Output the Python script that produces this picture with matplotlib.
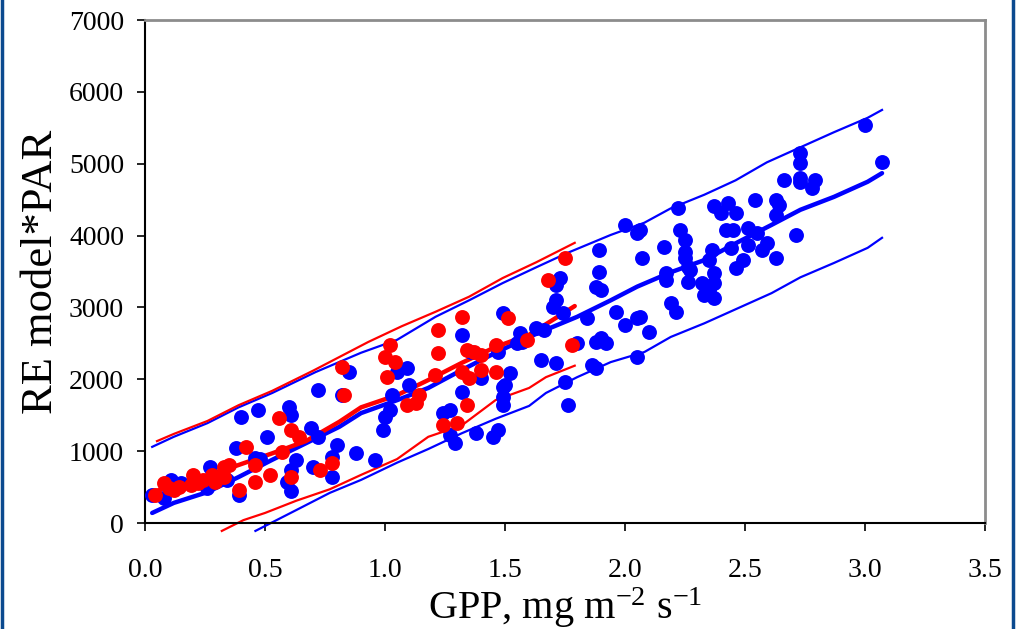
import numpy as np
import matplotlib
matplotlib.use('Agg')
import matplotlib.pyplot as plt
from matplotlib.lines import Line2D

plt.rcParams['font.family'] = ['Liberation Serif', 'DejaVu Serif']
plt.rcParams['mathtext.fontset'] = 'custom'
plt.rcParams['mathtext.rm'] = 'Liberation Serif'
plt.rcParams['mathtext.it'] = 'Liberation Serif:italic'

# blue data set (GPP, RE model*PAR)
blue_x = [0.03, 0.08, 0.11, 0.15, 0.27, 0.26, 0.34, 0.38, 0.40, 0.47, 0.39, 0.51, 0.46, 0.48,
          0.60, 0.61, 0.72, 0.69, 0.72, 0.63, 0.61, 0.59, 0.61, 0.70, 0.78, 0.78, 0.80,
          1.49, 1.32, 0.85, 0.82, 1.09, 1.05, 1.10, 1.03, 1.02, 1.00, 0.99, 0.88, 0.96,
          1.32, 1.24, 1.27, 1.27, 1.29, 1.38, 1.45, 1.47, 1.52, 1.49, 1.49, 1.49, 1.40,
          1.47, 1.56, 1.57, 1.36, 2.00, 2.05, 1.89, 2.07, 1.89, 1.88, 1.90, 1.73, 1.71,
          1.71, 1.70, 1.74, 1.84, 1.96, 2.05, 2.00, 2.10, 1.63, 1.66, 1.55, 1.80, 1.88,
          1.90, 1.92, 1.65, 1.71, 1.86, 1.88, 2.05, 1.75, 1.50, 1.76, 2.22, 2.37, 2.43,
          2.46, 2.40, 2.54, 2.63, 2.64, 2.63, 2.66, 2.23, 2.25, 2.06, 2.16, 2.42, 2.45,
          2.51, 2.55, 2.59, 2.57, 2.63, 2.51, 2.44, 2.36, 2.35, 2.25, 2.25, 2.26, 2.27,
          2.26, 2.17, 2.17, 2.49, 2.46, 2.37, 2.32, 2.37, 2.33, 2.37, 2.35, 2.19, 2.21,
          2.06, 3.00, 3.07, 2.73, 2.73, 2.73, 2.73, 2.79, 2.78, 2.71]
blue_y = [390, 350, 600, 560, 780, 490, 600, 1040, 1480, 1570, 390, 1200, 900, 890,
          1610, 1500, 1850, 1320, 1200, 880, 740, 570, 450, 780, 640, 920, 1090,
          2920, 2620, 2100, 1780, 2160, 2100, 1920, 1780, 1570, 1480, 1290, 970, 880,
          1820, 1530, 1570, 1220, 1110, 1250, 1200, 1290, 2090, 1890, 1750, 1640, 2020,
          2380, 2640, 2520, 2380, 4150, 4040, 3800, 3690, 3490, 3290, 3240, 3410, 3310,
          3100, 3010, 2920, 2850, 2940, 2850, 2760, 2660, 2710, 2690, 2510, 2510, 2520,
          2580, 2510, 2270, 2230, 2200, 2160, 2310, 1960, 1920, 1640, 4380, 4410, 4450,
          4320, 4320, 4500, 4500, 4430, 4290, 4780, 4080, 3940, 4080, 3840, 4080, 4080,
          4110, 4040, 3900, 3800, 3690, 3870, 3830, 3800, 3660, 3770, 3690, 3560, 3520,
          3350, 3480, 3380, 3660, 3550, 3480, 3340, 3340, 3170, 3130, 3240, 3060, 2940,
          2870, 5540, 5020, 5150, 5010, 4800, 4750, 4770, 4660, 4010]

# red data set
red_x = [0.04, 0.08, 0.10, 0.12, 0.14, 0.20, 0.19, 0.22, 0.24, 0.28, 0.29, 0.33, 0.35,
         0.33, 0.39, 0.46, 0.46, 0.52, 0.42, 0.56, 0.61, 0.64, 0.57, 0.61, 0.73, 0.78,
         0.83, 0.82, 1.00, 1.04, 1.01, 1.02, 1.09, 1.13, 1.14, 1.22, 1.22, 1.21, 1.32,
         1.34, 1.37, 1.40, 1.32, 1.35, 1.40, 1.46, 1.46, 1.34, 1.30, 1.24, 1.51, 1.75,
         1.68, 1.59, 1.78]
red_y = [390, 560, 490, 460, 500, 670, 530, 560, 600, 670, 570, 780, 810,
         640, 460, 570, 810, 670, 1060, 1460, 1290, 1200, 990, 640, 740, 840,
         1780, 2170, 2310, 2240, 2030, 2480, 1640, 1670, 1780, 2370, 2690, 2060, 2870,
         2410, 2380, 2340, 2100, 2020, 2130, 2100, 2480, 1640, 1390, 1360, 2850, 3690,
         3380, 2550, 2480]

# fitted lines and prediction bands
blue_fit_x = [0.03, 0.12, 0.26, 0.39, 0.53, 0.67, 0.81, 0.90, 1.05, 1.18, 1.32, 1.46, 1.60,
              1.67, 1.80, 1.94, 2.05, 2.19, 2.33, 2.47, 2.61, 2.73, 2.87, 3.01, 3.07]
blue_fit_y = [140, 280, 430, 640, 880, 1110, 1340, 1530, 1710, 1880, 2130, 2370, 2590,
              2690, 2870, 3100, 3290, 3490, 3660, 3910, 4150, 4360, 4540, 4750, 4870]
blue_up_x = [0.03, 0.12, 0.26, 0.39, 0.53, 0.71, 0.90, 1.05, 1.21, 1.35, 1.49, 1.63, 1.76,
             1.94, 2.08, 2.19, 2.33, 2.46, 2.59, 2.73, 2.87, 3.01, 3.07]
blue_up_y = [1060, 1200, 1390, 1610, 1810, 2100, 2370, 2550, 2870, 3100, 3340, 3560, 3760,
             4010, 4180, 4380, 4570, 4770, 5020, 5230, 5440, 5640, 5750]
blue_lo_x = [0.46, 0.63, 0.77, 0.90, 1.05, 1.18, 1.32, 1.46, 1.60, 1.67, 1.80, 1.94, 2.08,
             2.19, 2.33, 2.47, 2.61, 2.73, 2.87, 3.01, 3.07]
blue_lo_y = [-110, 180, 420, 600, 840, 1030, 1250, 1450, 1630, 1810, 2030, 2240, 2380,
             2590, 2780, 2990, 3200, 3420, 3620, 3830, 3970]

red_fit_x = [0.03, 0.19, 0.34, 0.53, 0.67, 0.81, 0.90, 1.05, 1.18, 1.32, 1.46, 1.60, 1.79]
red_fit_y = [430, 580, 750, 970, 1140, 1410, 1610, 1780, 1990, 2230, 2450, 2620, 3020]
red_up_x = [0.05, 0.12, 0.26, 0.39, 0.53, 0.70, 0.93, 1.07, 1.21, 1.35, 1.49, 1.63, 1.79]
red_up_y = [1140, 1240, 1420, 1640, 1840, 2120, 2520, 2740, 2940, 3150, 3410, 3630, 3900]
red_lo_x = [0.32, 0.41, 0.50, 0.63, 0.77, 0.90, 1.05, 1.18, 1.32, 1.46, 1.60, 1.67, 1.79]
red_lo_y = [-110, 40, 140, 310, 470, 670, 890, 1200, 1360, 1710, 1880, 2030, 2190]

fig = plt.figure(figsize=(10.21, 6.29), dpi=100)
ax = fig.add_axes([0.142, 0.1685, 0.823, 0.7995])

blue = '#0000FF'
red = '#FF0000'
ax.plot(blue_up_x, blue_up_y, color=blue, lw=1.6, clip_on=False)
ax.plot(blue_lo_x, blue_lo_y, color=blue, lw=1.6, clip_on=False)
ax.plot(red_up_x, red_up_y, color=red, lw=1.6, clip_on=False)
ax.plot(red_lo_x, red_lo_y, color=red, lw=1.6, clip_on=False)
ax.plot(blue_fit_x, blue_fit_y, color=blue, lw=3.2, solid_capstyle='round', clip_on=False)
ax.plot(red_fit_x, red_fit_y, color=red, lw=3.2, solid_capstyle='round', clip_on=False)
ax.scatter(blue_x, blue_y, s=115, color=blue, linewidths=0, zorder=3)
ax.scatter(red_x, red_y, s=115, color=red, linewidths=0, zorder=4)

ax.set_xlim(0, 3.5)
ax.set_ylim(0, 7000)
ax.set_xticks(np.arange(0, 3.51, 0.5))
ax.set_xticklabels(['%.1f' % v for v in np.arange(0, 3.51, 0.5)])
ax.set_yticks(np.arange(0, 7001, 1000))
ax.tick_params(direction='out', length=6, width=1.2, labelsize=20, colors='black')
ax.tick_params(axis='x', pad=19)
ax.tick_params(axis='y', pad=9)
for side in ['left', 'bottom']:
    ax.spines[side].set_linewidth(1.5)
    ax.spines[side].set_color('black')
for side in ['top', 'right']:
    ax.spines[side].set_linewidth(2)
    ax.spines[side].set_color('#8c8c8c')

ax.set_xlabel(r'GPP, mg m$^{-2}$ s$^{-1}$', fontsize=29, labelpad=2)
ax.set_ylabel('RE model*PAR', fontsize=32, labelpad=6)

# slide frame on both sides
fig.add_artist(Line2D([0.0015, 0.0015], [0, 1], color='#0B4A8F', lw=2.5, transform=fig.transFigure))
fig.add_artist(Line2D([0.992, 0.992], [0, 1], color='#0B4A8F', lw=2.5, transform=fig.transFigure))

fig.savefig('out.png', dpi=100)
